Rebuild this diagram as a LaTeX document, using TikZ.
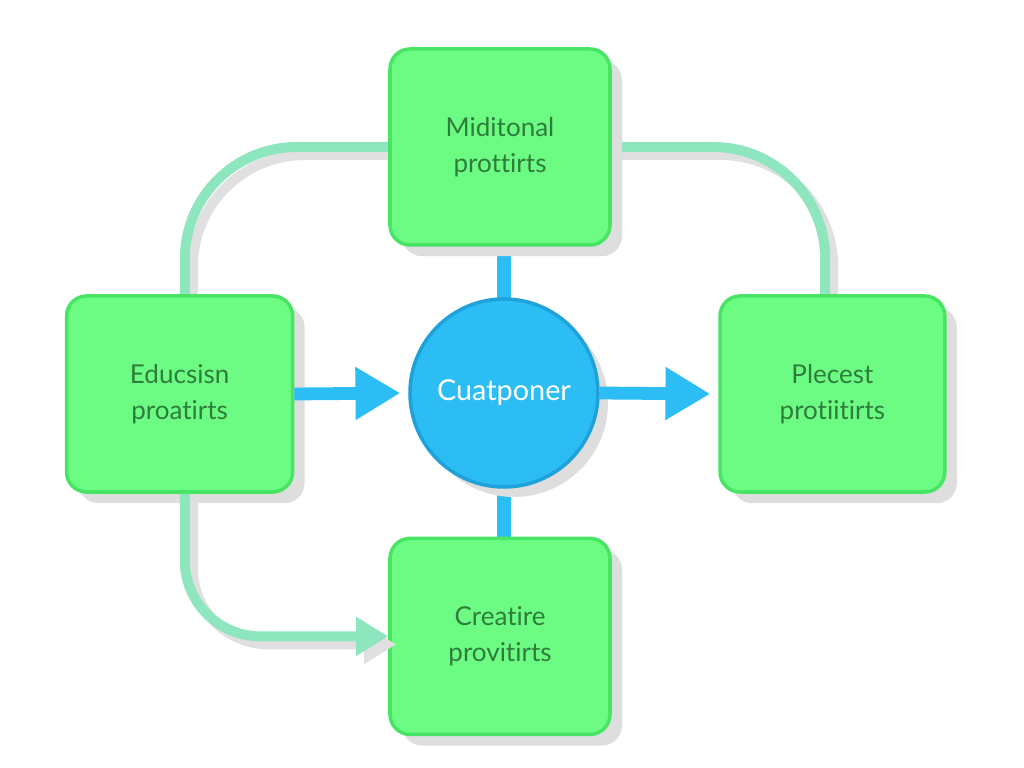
\documentclass[tikz,border=0pt]{standalone}
\usepackage{fontspec}
\setmainfont{Lato}[Ligatures={NoCommon,NoContextual}]
\usepackage{tikz}
\usetikzlibrary{positioning, arrows.meta, shadows, backgrounds}
\definecolor{boxgreen}{HTML}{6CFC84}
\definecolor{boxedge}{HTML}{48E463}
\definecolor{textgreen}{HTML}{2E7D3A}
\definecolor{hubblue}{HTML}{2BBDF4}
\definecolor{hubedge}{HTML}{1EA2D9}
\definecolor{linkmint}{HTML}{8EE6BE}
\tikzset{procbox/.style={rectangle, rounded corners=0.5cm, draw=boxedge, line width=2.5pt, fill=boxgreen, minimum width=5.5cm, minimum height=4.9cm, align=center, text=textgreen, font=\fontsize{18.5}{26}\selectfont, drop shadow={shadow xshift=0.3cm, shadow yshift=-0.28cm, fill=black!13, opacity=1}},
    hubnode/.style={circle, draw=hubedge, line width=2.5pt, fill=hubblue, minimum size=4.7cm, text=white, font=\fontsize{20.5}{24}\selectfont, drop shadow={shadow xshift=0.25cm, shadow yshift=-0.25cm, fill=black!13, opacity=1}},
    bluebar/.style={draw=hubblue, line width=0.36cm},
    bluearrow/.style={draw=hubblue, line width=0.32cm, -{Triangle[length=1.12cm, width=1.25cm]}},
    mintlink/.style={draw=linkmint, line width=0.25cm, preaction={draw=black!12, line width=0.25cm, transform canvas={shift={(0.2,-0.2)}}}}}

\begin{document}
\begin{tikzpicture}
            \useasboundingbox(0,0) rectangle (25.6,19.2);
            \node[procbox] (top) at (12.5,15.525) {Miditonal\\prottirts};
            \node[procbox, minimum width=5.65cm] (left) at (4.49,9.35) {Educsisn\\proatirts};
            \node[procbox, minimum width=5.62cm] (right) at (20.81,9.35) {Plecest\\protiitirts};
            \node[procbox] (bottom) at (12.5,3.29) {Creatire\\provitirts};
            \node[hubnode] (hub) at (12.6,9.375) {Cuatponer};
            % links go under the boxes
            \begin{scope}[on background layer]
            \fill[white](0,0) rectangle (25.6,19.2);
            \draw[bluebar](top.south -| hub.center)--(bottom.north -| hub.center);
            \draw[mintlink, rounded corners=2.8cm](top.west)-|([xshift=0.13cm]left.north);
            \draw[mintlink, rounded corners=2.8cm](top.east)-|([xshift=-0.18cm]right.north);
            \end{scope}
            \draw[mintlink, rounded corners=1.9cm, -{Triangle[length=0.8cm, width=0.92cm]}]([xshift=0.13cm]left.south)|-(bottom.west);
            \draw[bluearrow, shorten >=0.2cm](left.east)--(hub.west);
            \draw[bluearrow, shorten >=0.2cm](hub.east)--(right.west);
        \end{tikzpicture}
\end{document}
